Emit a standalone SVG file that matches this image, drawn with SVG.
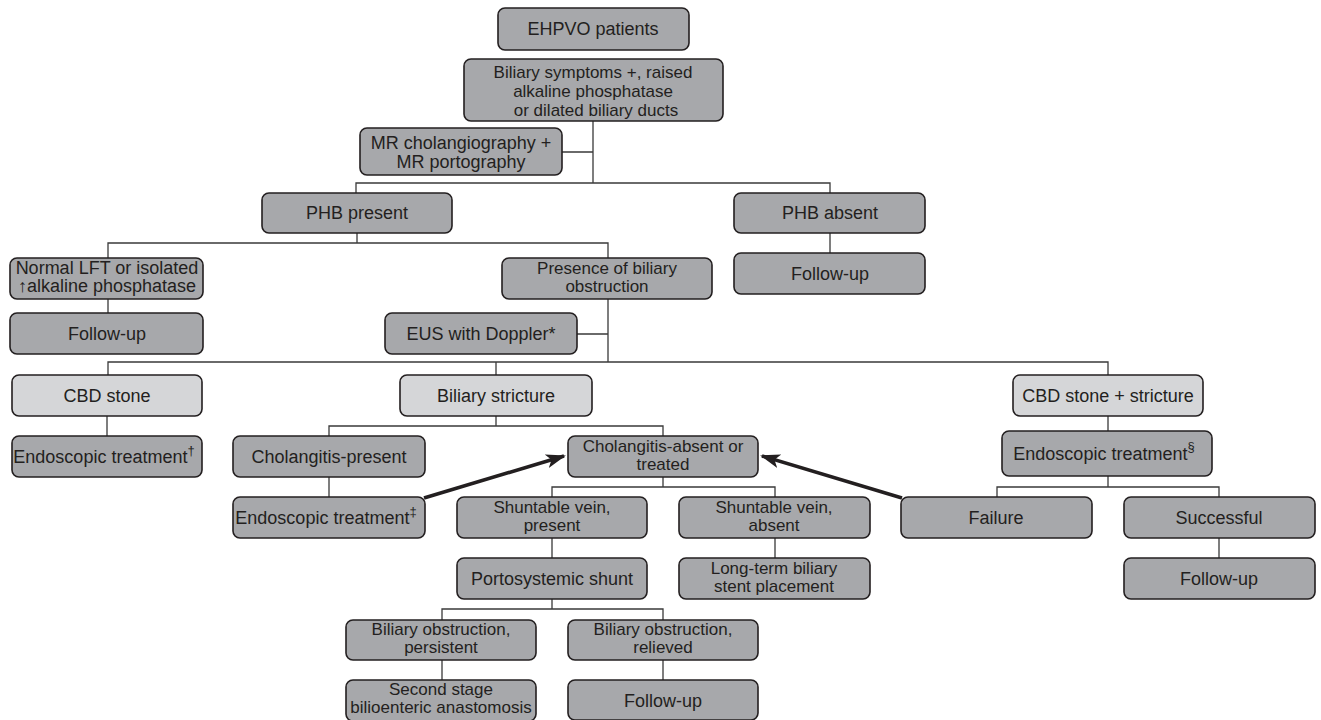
<svg xmlns="http://www.w3.org/2000/svg" width="1321" height="720" viewBox="0 0 1321 720">
<defs>
<style>
.b{fill:#a7a8ab;stroke:#231f20;stroke-width:1.6}
.l{fill:#d5d6d8;stroke:#231f20;stroke-width:1.6}
.t{font-family:"Liberation Sans",Arial,sans-serif;font-size:18px;fill:#231f20;text-anchor:middle}
.s{font-size:17px}
.c{fill:none;stroke:#3a3a3a;stroke-width:1.3}
.a{fill:none;stroke:#231f20;stroke-width:3.5}
</style>
<marker id="ah" markerUnits="userSpaceOnUse" markerWidth="20" markerHeight="16" refX="18" refY="8" orient="auto">
<path d="M0,1 L20,8 L0,15 L5,8 Z" fill="#231f20"/>
</marker>
</defs>
<rect width="1321" height="720" fill="#ffffff"/>
<g id="connectors">
<path class="c" d="M593,121V183M562,152H593M356,193V183H830V193M830,233V253M357,233V243M108,258V243H608V258M108,299V313M608,299V362M577,334H608M108,375V362H1108V375M496,362V375M107,416V436M496,416V426M329,436V426H663V436M1108,416V431M329,477V497M663,477V487M552,497V487H775V497M1108,476V487M997,497V487H1219V497M552,538V558M775,538V558M1219,538V558M552,599V609M442,620V609H663V620M442,660V680M663,660V680"/>
<path class="a" d="M424,498L564,456" marker-end="url(#ah)"/>
<path class="a" d="M902,498L762,456" marker-end="url(#ah)"/>
</g>
<g id="n1"><rect class="b" x="498" y="8" width="191" height="42" rx="7"/><text class="t" x="593" y="35">EHPVO patients</text></g>
<g id="n2"><rect class="b" x="464" y="59" width="259" height="62" rx="7"/><text class="t s" x="593" y="78">Biliary symptoms +, raised</text><text class="t s" x="593" y="97">alkaline phosphatase</text><text class="t s" x="596" y="116">or dilated biliary ducts</text></g>
<g id="n3"><rect class="b" x="360" y="128" width="202" height="47" rx="7"/><text class="t" x="461" y="149">MR cholangiography +</text><text class="t" x="461" y="168">MR portography</text></g>
<g id="n4"><rect class="b" x="262" y="193" width="190" height="40" rx="7"/><text class="t" x="357" y="219">PHB present</text></g>
<g id="n5"><rect class="b" x="734" y="193" width="191" height="40" rx="7"/><text class="t" x="830" y="219">PHB absent</text></g>
<g id="n6"><rect class="b" x="734" y="253" width="191" height="41" rx="7"/><text class="t" x="830" y="280">Follow-up</text></g>
<g id="n7"><rect class="b" x="10" y="258" width="193" height="41" rx="7"/><text class="t" x="107" y="274">Normal LFT or isolated</text><text class="t" x="107" y="292">↑alkaline phosphatase</text></g>
<g id="n8"><rect class="b" x="502" y="258" width="210" height="41" rx="7"/><text class="t s" x="607" y="274">Presence of biliary</text><text class="t s" x="607" y="292">obstruction</text></g>
<g id="n9"><rect class="b" x="10" y="313" width="193" height="41" rx="7"/><text class="t" x="107" y="340">Follow-up</text></g>
<g id="n10"><rect class="b" x="385" y="313" width="192" height="41" rx="7"/><text class="t" x="481" y="340">EUS with Doppler*</text></g>
<g id="n11"><rect class="l" x="12" y="375" width="190" height="41" rx="7"/><text class="t" x="107" y="402">CBD stone</text></g>
<g id="n12"><rect class="l" x="400" y="375" width="192" height="41" rx="7"/><text class="t" x="496" y="402">Biliary stricture</text></g>
<g id="n13"><rect class="l" x="1013" y="375" width="190" height="41" rx="7"/><text class="t" x="1108" y="402">CBD stone + stricture</text></g>
<g id="n14"><rect class="b" x="12" y="436" width="190" height="41" rx="7"/><text class="t" x="104" y="463" font-size="17">Endoscopic treatment<tspan font-size="13" dy="-8">†</tspan></text></g>
<g id="n15"><rect class="b" x="233" y="436" width="192" height="41" rx="7"/><text class="t" x="329" y="463">Cholangitis-present</text></g>
<g id="n16"><rect class="b" x="568" y="436" width="190" height="41" rx="7"/><text class="t s" x="663" y="452">Cholangitis-absent or</text><text class="t s" x="663" y="470">treated</text></g>
<g id="n17"><rect class="b" x="1002" y="431" width="210" height="45" rx="7"/><text class="t" x="1104" y="460" font-size="19.5">Endoscopic treatment<tspan font-size="13" dy="-9">§</tspan></text></g>
<g id="n18"><rect class="b" x="233" y="497" width="192" height="41" rx="7"/><text class="t" x="326" y="524" font-size="17">Endoscopic treatment<tspan font-size="13" dy="-8">‡</tspan></text></g>
<g id="n19"><rect class="b" x="457" y="497" width="190" height="41" rx="7"/><text class="t s" x="552" y="513">Shuntable vein,</text><text class="t s" x="552" y="531">present</text></g>
<g id="n20"><rect class="b" x="679" y="497" width="191" height="41" rx="7"/><text class="t s" x="774" y="513">Shuntable vein,</text><text class="t s" x="774" y="531">absent</text></g>
<g id="n21"><rect class="b" x="901" y="497" width="191" height="41" rx="7"/><text class="t" x="996" y="524">Failure</text></g>
<g id="n22"><rect class="b" x="1124" y="497" width="191" height="41" rx="7"/><text class="t" x="1219" y="524">Successful</text></g>
<g id="n23"><rect class="b" x="457" y="558" width="190" height="41" rx="7"/><text class="t" x="552" y="585">Portosystemic shunt</text></g>
<g id="n24"><rect class="b" x="679" y="558" width="191" height="41" rx="7"/><text class="t s" x="774" y="574">Long-term biliary</text><text class="t s" x="774" y="592">stent placement</text></g>
<g id="n25"><rect class="b" x="1124" y="558" width="191" height="41" rx="7"/><text class="t" x="1219" y="585">Follow-up</text></g>
<g id="n26"><rect class="b" x="346" y="620" width="190" height="40" rx="7"/><text class="t s" x="441" y="635">Biliary obstruction,</text><text class="t s" x="441" y="653">persistent</text></g>
<g id="n27"><rect class="b" x="568" y="620" width="190" height="40" rx="7"/><text class="t s" x="663" y="635">Biliary obstruction,</text><text class="t s" x="663" y="653">relieved</text></g>
<g id="n28"><rect class="b" x="346" y="680" width="190" height="41" rx="7"/><text class="t s" x="441" y="695">Second stage</text><text class="t s" x="441" y="713">bilioenteric anastomosis</text></g>
<g id="n29"><rect class="b" x="568" y="680" width="190" height="40" rx="7"/><text class="t" x="663" y="707">Follow-up</text></g>
</svg>
